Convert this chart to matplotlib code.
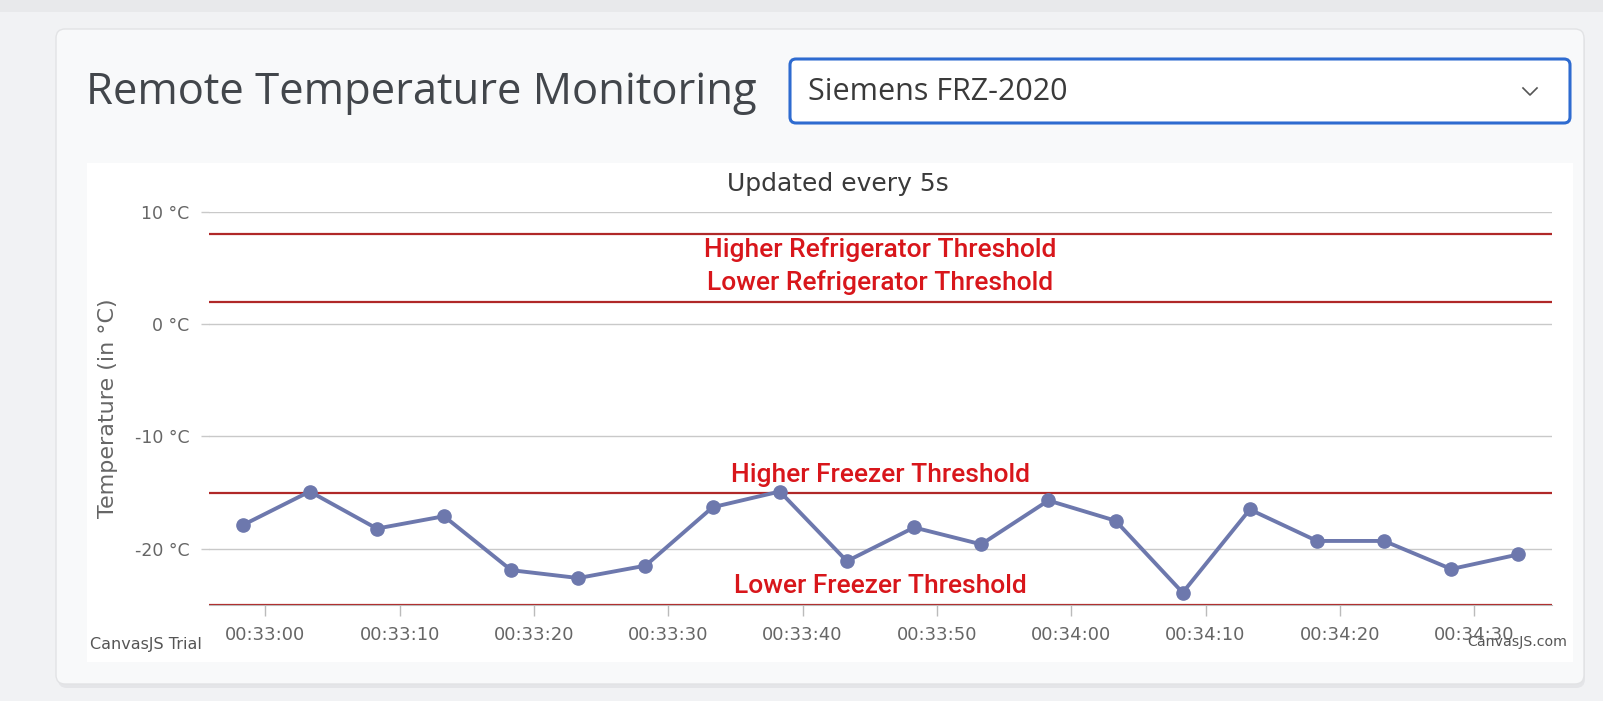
import matplotlib
matplotlib.use("Agg")
import matplotlib.pyplot as plt
import matplotlib.dates as mdates
from matplotlib.patches import FancyBboxPatch, Rectangle
import pandas as pd

# readings, one every 5 s
times = [
    "00:32:58.3", "00:33:03.3", "00:33:08.3", "00:33:13.3", "00:33:18.3",
    "00:33:23.3", "00:33:28.3", "00:33:33.3", "00:33:38.3", "00:33:43.3",
    "00:33:48.3", "00:33:53.3", "00:33:58.3", "00:34:03.3", "00:34:08.3",
    "00:34:13.3", "00:34:18.3", "00:34:23.3", "00:34:28.3", "00:34:33.3",
]
temps = [
    -17.9, -14.9, -18.2, -17.1, -21.9, -22.6, -21.5, -16.3, -14.9, -21.1,
    -18.1, -19.6, -15.7, -17.5, -23.9, -16.5, -19.3, -19.3, -21.8, -20.5,
]
x_range = ["00:32:55.8", "00:34:35.8"]
y_range = [-25, 10]
y_ticks = [10, 0, -10, -20]

threshold_values = [8, 2, -15, -25]
threshold_labels = [
    "Higher Refrigerator Threshold",
    "Lower Refrigerator Threshold",
    "Higher Freezer Threshold",
    "Lower Freezer Threshold",
]
# label offset in points: negative = below the line
threshold_offsets = [-11, 14, 13, 14]

device = "Siemens FRZ-2020"
page_title = "Remote Temperature Monitoring"
chart_title = "Updated every 5s"


def to_dt(values):
    return pd.to_datetime(["2020-01-01 " + v for v in values])


W, H = 1603, 701
fig = plt.figure(figsize=(W / 100, H / 100), dpi=100)
fig.patch.set_facecolor("#f1f2f4")

# page / card decoration in pixel coordinates
bg = fig.add_axes([0, 0, 1, 1])
bg.set_xlim(0, W)
bg.set_ylim(H, 0)
bg.axis("off")
bg.add_patch(Rectangle((0, 0), W, 12, facecolor="#e8e9eb", edgecolor="none"))
bg.add_patch(FancyBboxPatch((58, 33), 1527, 655, boxstyle="round,pad=0,rounding_size=9",
                            facecolor="#dcdde0", edgecolor="none", alpha=0.6))
bg.add_patch(FancyBboxPatch((56, 29), 1528, 655, boxstyle="round,pad=0,rounding_size=9",
                            facecolor="#f8f9fa", edgecolor="#e2e3e5", linewidth=1))
bg.add_patch(Rectangle((87, 163), 1486, 499, facecolor="white", edgecolor="none"))
bg.text(86, 93, page_title, fontsize=31.4, family="Open Sans", color="#42464b",
        ha="left", va="center")
bg.add_patch(FancyBboxPatch((790, 59), 780, 64, boxstyle="round,pad=0,rounding_size=6",
                            facecolor="#ffffff", edgecolor="#2e6bd0", linewidth=2.2))
bg.text(808, 92, device, fontsize=22, family="Open Sans", color="#3a3a3a",
        ha="left", va="center")
bg.plot([1523, 1530, 1537], [88, 95, 88], color="#555555", linewidth=1.2)
bg.text(838, 184, chart_title, fontsize=18, family="DejaVu Sans", color="#3a3a3a",
        ha="center", va="center")
bg.text(90, 644, "CanvasJS Trial", fontsize=11.5, family="DejaVu Sans",
        color="#555555", ha="left", va="center")

# chart
ax = fig.add_axes([209 / W, (H - 605) / H, (1552 - 209) / W, (605 - 211.7) / H])
ax.set_facecolor("none")
ax.set_xlim(to_dt(x_range))
ax.set_ylim(*y_range)

ax.set_yticks(y_ticks)
ax.set_yticklabels([f"{v} °C" for v in y_ticks])
ax.grid(axis="y", color="#c9c9c9", linewidth=1.0)
ax.tick_params(axis="y", length=6, width=1, color="#c9c9c9", pad=8,
               labelsize=12.5, labelcolor="#666666")
ax.xaxis.set_major_locator(mdates.SecondLocator(bysecond=range(0, 60, 10)))
ax.xaxis.set_major_formatter(mdates.DateFormatter("%H:%M:%S"))
ax.tick_params(axis="x", length=8, width=1, color="#bbbbbb", pad=7,
               labelsize=13, labelcolor="#666666")
for s in ["top", "right", "left"]:
    ax.spines[s].set_visible(False)
ax.spines["bottom"].set_color("#bbbbbb")

ax.set_ylabel("Temperature (in °C)", fontsize=16, color="#666666")
ax.yaxis.set_label_coords(-0.068, 0.5)

for val, label, off in zip(threshold_values, threshold_labels, threshold_offsets):
    ax.axhline(val, color="#b02828", linewidth=1.6, zorder=2)
    ax.annotate(label, xy=(0.5, val), xycoords=("axes fraction", "data"),
                xytext=(0, off), textcoords="offset points", ha="center", va="center",
                fontsize=19, fontweight="medium", color="#d8161b", family="Roboto")

ax.plot(to_dt(times), temps, color="#6d78ad", linewidth=2.8, marker="o",
        markersize=9.5, zorder=4, clip_on=False)

bg.text(1467, 642, "CanvasJS.com", fontsize=10.2, family="DejaVu Sans",
        color="#555555", ha="left", va="center", zorder=10)

fig.savefig("out.png", dpi=100, facecolor=fig.get_facecolor())
